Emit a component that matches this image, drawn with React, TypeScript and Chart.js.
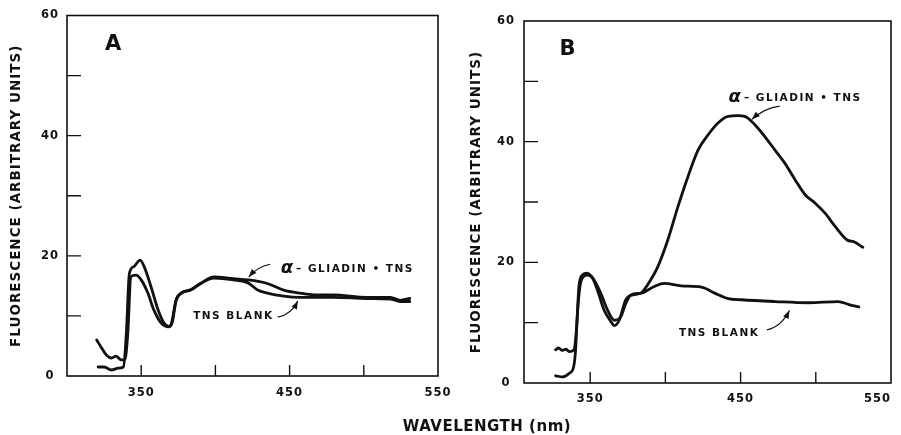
import React, { useEffect, useRef } from "react";
import { Chart, registerables } from "chart.js";

Chart.register(...registerables);

// ---------- Panel A data (wavelength nm, fluorescence arbitrary units) ----------
const aBlankX = [320, 323, 326.5, 330, 333, 336.5, 339, 341, 343, 346.5, 350, 354.5, 358.5, 363.5, 368, 370, 373.5, 377, 383.5, 390, 399, 412, 422, 428.5, 435, 446, 457, 479.5, 502, 518, 524.5, 531];
const aBlankY = [6.0, 4.8, 3.5, 3.0, 3.3, 2.7, 2.7, 7.2, 16.5, 16.8, 16.0, 13.8, 11.0, 8.8, 8.2, 8.5, 12.6, 13.8, 14.3, 15.4, 16.3, 16.0, 15.5, 14.3, 13.8, 13.3, 13.1, 13.1, 12.9, 12.8, 12.4, 12.4];
const aGliadinX = [321, 325, 330, 334.5, 338, 340, 342, 345, 349.3, 352, 356.7, 361.4, 365.4, 368.8, 371, 373.5, 377, 383.6, 390, 399, 412, 422, 435, 446, 457, 469, 479.5, 502, 518, 524.5, 531];
const aGliadinY = [1.5, 1.5, 1.0, 1.3, 1.5, 7.2, 17.0, 18.2, 19.3, 18.2, 14.8, 11.0, 8.8, 8.2, 9.0, 12.6, 13.8, 14.4, 15.4, 16.5, 16.2, 16.0, 15.4, 14.3, 13.8, 13.5, 13.5, 13.1, 13.1, 12.6, 12.9];

// ---------- Panel B data ----------
const bGliadinX = [327, 331.5, 336, 339, 340.3, 341.4, 343.2, 345.4, 348, 351.5, 354.8, 359.2, 363.7, 366, 369.3, 373.7, 378.2, 383.8, 388.2, 395, 401.6, 408.3, 415, 421.7, 428.3, 435, 441.7, 448.4, 452.8, 459.5, 466.2, 472.9, 479.5, 486.2, 492.9, 499.6, 506.3, 513, 520.8, 525.3, 531.3];
const bGliadinY = [1.2, 1.0, 1.6, 2.7, 5.5, 11.0, 16.0, 17.6, 17.9, 17.4, 15.4, 12.1, 10.2, 9.5, 10.4, 13.8, 14.6, 14.9, 16.3, 19.3, 23.7, 29.2, 34.2, 38.6, 41.1, 43.1, 44.2, 44.3, 44.2, 42.8, 40.8, 38.6, 36.4, 33.7, 31.2, 29.8, 28.1, 25.9, 23.7, 23.4, 22.5];
const bBlankX = [327, 329, 331.5, 334, 336, 339.2, 341, 342.5, 344.8, 348, 352.5, 357, 361.5, 366, 370.4, 373.7, 377, 383.8, 392.6, 399.3, 410.5, 424, 432.8, 441.7, 450.6, 473, 495, 515, 522, 528.6];
const bBlankY = [5.5, 5.8, 5.4, 5.6, 5.2, 5.5, 9.3, 16.0, 17.9, 18.2, 17.1, 14.9, 12.1, 10.4, 11.0, 13.2, 14.6, 14.9, 16.0, 16.5, 16.1, 15.9, 14.9, 14.0, 13.8, 13.5, 13.3, 13.5, 13.0, 12.6];

// ---------- Axes ----------
const yTickValues = [0, 10, 20, 30, 40, 50, 60];
const yTickLabels = ["0", "", "20", "", "40", "", "60"];
const xTickValues = [350, 400, 450, 500, 550];
const xTickLabels = ["350", "", "450", "", "550"];
const yInnerTicks = [10, 20, 30, 40, 50];
const xInnerTicks = [350, 400, 450, 500];

const Y_TITLE = "FLUORESCENCE (ARBITRARY UNITS)";
const X_TITLE = "WAVELENGTH (nm)";
const GLIADIN_LABEL = "– GLIADIN • TNS";
const BLANK_LABEL = "TNS BLANK";

const FONT = '"DejaVu Sans", "Liberation Sans", sans-serif';
const INK = "#111";

type Pt = [number, number];
interface PanelCfg {
  letter: string;
  letterAt: Pt;
  alphaAt: Pt;
  blankAt: Pt;
  arrows: { from: Pt; ctrl: Pt; to: Pt }[];
}

const panelA: PanelCfg = {
  letter: "A",
  letterAt: [331, 55.2],
  alphaAt: [444, 18.0],
  blankAt: [385, 10.0],
  arrows: [
    { from: [437, 18.6], ctrl: [429, 18.3], to: [422.5, 16.5] },
    { from: [442, 9.8], ctrl: [451, 10.2], to: [455.5, 12.5] },
  ],
};
const panelB: PanelCfg = {
  letter: "B",
  letterAt: [335, 55.2],
  alphaAt: [442, 47.4],
  blankAt: [409, 8.3],
  arrows: [
    { from: [476, 45.9], ctrl: [466, 45.6], to: [457.5, 43.7] },
    { from: [467.5, 8.8], ctrl: [477, 9.3], to: [482.5, 12.0] },
  ],
};

const toPoints = (xs: number[], ys: number[]) => xs.map((x, i) => ({ x, y: ys[i] }));

const panelPlugin = {
  id: "panel",
  beforeDraw(chart: any) {
    (chart.ctx as any).letterSpacing = "1px";
  },
  afterDatasetsDraw(chart: any, _args: any, opts: any) {
    const cfg: PanelCfg = opts.cfg;
    if (!cfg) return;
    const { ctx, chartArea: ca } = chart;
    const xs = chart.scales.x;
    const ys = chart.scales.y;
    const px = (p: Pt): Pt => [xs.getPixelForValue(p[0]), ys.getPixelForValue(p[1])];
    ctx.save();
    ctx.strokeStyle = INK;
    ctx.fillStyle = INK;
    // frame
    ctx.lineWidth = 1.6;
    ctx.strokeRect(ca.left, ca.top, ca.right - ca.left, ca.bottom - ca.top);
    // inward ticks
    ctx.lineWidth = 1.4;
    ctx.beginPath();
    for (const v of xInnerTicks) {
      const p = xs.getPixelForValue(v);
      ctx.moveTo(p, ca.bottom);
      ctx.lineTo(p, ca.bottom - 11);
    }
    for (const v of yInnerTicks) {
      const p = ys.getPixelForValue(v);
      ctx.moveTo(ca.left, p);
      ctx.lineTo(ca.left + 14, p);
    }
    ctx.stroke();
    // panel letter
    (ctx as any).letterSpacing = "0px";
    ctx.textBaseline = "middle";
    ctx.textAlign = "center";
    ctx.font = `bold 21px ${FONT}`;
    const lp = px(cfg.letterAt);
    ctx.fillText(cfg.letter, lp[0], lp[1]);
    // alpha-gliadin label
    ctx.textAlign = "left";
    const ap = px(cfg.alphaAt);
    ctx.font = `bold italic 18px ${FONT}`;
    ctx.fillText("α", ap[0], ap[1]);
    const aw = ctx.measureText("α").width;
    ctx.font = `bold 10.5px ${FONT}`;
    (ctx as any).letterSpacing = "1.5px";
    ctx.fillText(GLIADIN_LABEL, ap[0] + aw + 3, ap[1] + 1);
    // blank label
    const bp = px(cfg.blankAt);
    ctx.fillText(BLANK_LABEL, bp[0], bp[1]);
    // arrows
    ctx.lineWidth = 1.2;
    for (const a of cfg.arrows) {
      const f = px(a.from);
      const c = px(a.ctrl);
      const t = px(a.to);
      ctx.beginPath();
      ctx.moveTo(f[0], f[1]);
      ctx.quadraticCurveTo(c[0], c[1], t[0], t[1]);
      ctx.stroke();
      const ang = Math.atan2(t[1] - c[1], t[0] - c[0]);
      const L = 8;
      const W = 3;
      ctx.beginPath();
      ctx.moveTo(t[0], t[1]);
      ctx.lineTo(t[0] - L * Math.cos(ang) + W * Math.sin(ang), t[1] - L * Math.sin(ang) - W * Math.cos(ang));
      ctx.lineTo(t[0] - L * Math.cos(ang) - W * Math.sin(ang), t[1] - L * Math.sin(ang) + W * Math.cos(ang));
      ctx.closePath();
      ctx.fill();
    }
    ctx.restore();
  },
};

function makeChart(
  canvas: HTMLCanvasElement,
  series: { x: number[]; y: number[] }[],
  geom: { xmin: number; padTop: number; padRight: number; xHeight: number; yWidth: number; yLabPad: number; xLabPad: number; titlePad: number; lastAlign: string },
  cfg: PanelCfg
) {
  const xTicks = geom.xmin < 350 ? [geom.xmin, ...xTickValues] : xTickValues;
  return new Chart(canvas, {
    type: "line",
    data: {
      datasets: series.map((s) => ({
        data: toPoints(s.x, s.y),
        borderColor: INK,
        borderWidth: 2.8,
        pointRadius: 0,
        fill: false,
        cubicInterpolationMode: "monotone" as const,
        borderJoinStyle: "round" as const,
        borderCapStyle: "round" as const,
      })),
    },
    plugins: [panelPlugin],
    options: {
      responsive: false,
      animation: false,
      events: [],
      layout: { padding: { left: 0, top: geom.padTop, right: geom.padRight, bottom: 0 } },
      plugins: {
        legend: { display: false },
        tooltip: { enabled: false },
        panel: { cfg },
      } as any,
      scales: {
        x: {
          type: "linear",
          min: geom.xmin,
          max: 550,
          afterBuildTicks: (s: any) => {
            s.ticks = xTicks.map((v) => ({ value: v }));
          },
          afterFit: (s: any) => {
            s.height = geom.xHeight;
            s.paddingLeft = 0;
            s.paddingRight = 0;
          },
          grid: { display: false, drawTicks: false },
          border: { display: false },
          ticks: {
            autoSkip: false,
            maxRotation: 0,
            padding: geom.xLabPad,
            align: geom.lastAlign as any,
            color: INK,
            font: { family: FONT, size: 11.5, weight: "bold" },
            callback: (v: any) => {
              const i = xTickValues.indexOf(Number(v));
              return i >= 0 ? xTickLabels[i] : "";
            },
          },
        },
        y: {
          type: "linear",
          min: 0,
          max: 60,
          afterBuildTicks: (s: any) => {
            s.ticks = yTickValues.map((v) => ({ value: v }));
          },
          afterFit: (s: any) => {
            s.width = geom.yWidth;
            s.paddingTop = 0;
            s.paddingBottom = 0;
          },
          grid: { display: false, drawTicks: false },
          border: { display: false },
          title: {
            display: true,
            text: Y_TITLE,
            color: INK,
            font: { family: FONT, size: 13.5, weight: "bold" },
            padding: { top: geom.titlePad, bottom: 0 },
          },
          ticks: {
            crossAlign: "center",
            padding: geom.yLabPad,
            color: INK,
            font: { family: FONT, size: 11.5, weight: "bold" },
            callback: (v: any) => {
              const i = yTickValues.indexOf(Number(v));
              return i >= 0 ? yTickLabels[i] : "";
            },
          },
        },
      },
    } as any,
  });
}

export default function App() {
  const refA = useRef<HTMLCanvasElement>(null);
  const refB = useRef<HTMLCanvasElement>(null);

  useEffect(() => {
    const a = makeChart(
      refA.current!,
      [
        { x: aBlankX, y: aBlankY },
        { x: aGliadinX, y: aGliadinY },
      ],
      { xmin: 300, padTop: 15.5, padRight: 32, xHeight: 59, yWidth: 67, yLabPad: 9, xLabPad: 10, titlePad: 8, lastAlign: "center" },
      panelA
    );
    const b = makeChart(
      refB.current!,
      [
        { x: bBlankX, y: bBlankY },
        { x: bGliadinX, y: bGliadinY },
      ],
      { xmin: 306, padTop: 21, padRight: 10, xHeight: 52, yWidth: 74, yLabPad: 10, xLabPad: 9, titlePad: 18.5, lastAlign: "inner" },
      panelB
    );
    return () => {
      a.destroy();
      b.destroy();
    };
  }, []);

  return (
    <div style={{ position: "absolute", left: 0, top: 0, width: 901, height: 435, background: "#fff", overflow: "hidden" }}>
      <canvas ref={refA} width={470} height={435} style={{ position: "absolute", left: 0, top: 0, width: 470, height: 435 }} />
      <canvas ref={refB} width={451} height={435} style={{ position: "absolute", left: 450, top: 0, width: 451, height: 435 }} />
      <div
        style={{
          position: "absolute",
          left: 337,
          width: 300,
          top: 417,
          textAlign: "center",
          font: `bold 15px ${FONT}`,
          lineHeight: "18px",
          letterSpacing: "0.5px",
          color: INK,
        }}
      >
        {X_TITLE}
      </div>
    </div>
  );
}
